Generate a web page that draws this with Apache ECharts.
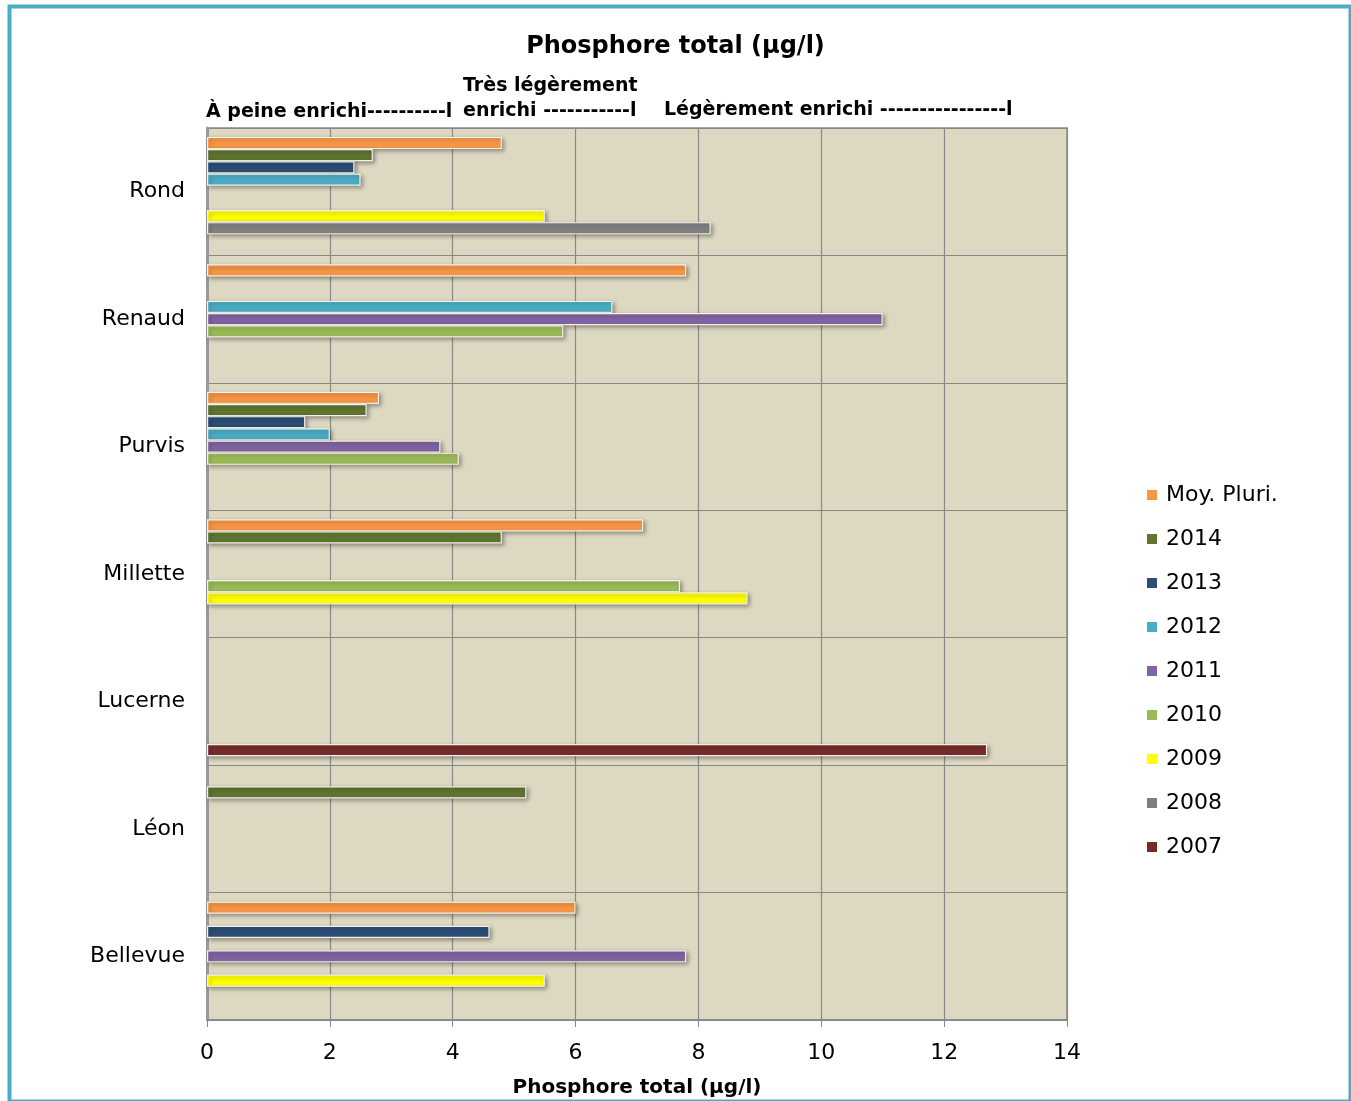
<!DOCTYPE html>
<html><head><meta charset="utf-8">
<script src="https://cdn.jsdelivr.net/npm/echarts@6/dist/echarts.min.js"></script>
<style>html,body{margin:0;padding:0;background:#fff}#c{width:1351px;height:1101px}</style>
</head><body><div id="c"></div>
<script>
var categories = ['Rond','Renaud','Purvis','Millette','Lucerne','Léon','Bellevue'];
var seriesNames = ['Moy. Pluri.','2014','2013','2012','2011','2010','2009','2008','2007'];
var moyPluri = [4.8, 7.8, 2.8, 7.1, null, null, 6.0];
var y2014 = [2.7, null, 2.6, 4.8, null, 5.2, null];
var y2013 = [2.4, null, 1.6, null, null, null, 4.6];
var y2012 = [2.5, 6.6, 2.0, null, null, null, null];
var y2011 = [null, 11.0, 3.8, null, null, null, 7.8];
var y2010 = [null, 5.8, 4.1, 7.7, null, null, null];
var y2009 = [5.5, null, null, 8.8, null, null, 5.5];
var y2008 = [8.2, null, null, null, null, null, null];
var y2007 = [null, null, null, null, 12.7, null, null];
var xTicks = [0, 2, 4, 6, 8, 10, 12, 14];

var dataSets = [moyPluri, y2014, y2013, y2012, y2011, y2010, y2009, y2008, y2007];
var colors = ['#F79646','#5F7530','#2C4D75','#4BACC6','#8064A2','#9BBB59','#FFFF00','#7F7F7F','#772C2A'];
var FONT = '"DejaVu Sans", sans-serif';

var series = dataSets.map(function(d, i){
  return {
    name: seriesNames[i], type: 'bar', data: d,
    barGap: '0%', barCategoryGap: '14%',
    itemStyle: {color: colors[i], borderColor: '#F4F1E8', borderWidth: 1.2,
      shadowColor: 'rgba(0,0,0,0.35)', shadowBlur: 4, shadowOffsetX: 2, shadowOffsetY: 2}
  };
});

var chart = echarts.init(document.getElementById('c'));
chart.setOption({
  backgroundColor: '#fff',
  animation: false,
  color: colors,
  title: {text: 'Phosphore total (µg/l)', left: 'center', top: 30,
    textStyle: {fontFamily: FONT, fontSize: 24, fontWeight: 'bold', color: '#000'}},
  legend: {orient: 'vertical', left: 1142, top: 479, itemWidth: 10, itemHeight: 10, itemGap: 22,
    icon: 'rect', itemStyle: {borderWidth: 0, shadowBlur: 0},
    textStyle: {fontFamily: FONT, fontSize: 22, color: '#000', padding: [0, 0, 0, 4]}, data: seriesNames},
  grid: {left: 207, right: 284, top: 128, bottom: 81, show: true, backgroundColor: '#DDD8C2',
    borderColor: '#888', borderWidth: 1.5, containLabel: false, outerBoundsMode: 'none'},
  xAxis: {type: 'value', min: 0, max: 14, interval: 2,
    name: 'Phosphore total (µg/l)', nameLocation: 'middle', nameGap: 58,
    nameTextStyle: {fontFamily: FONT, fontSize: 20, fontWeight: 'bold', color: '#000'},
    axisLine: {show: true, lineStyle: {color: '#888', width: 1.5}},
    axisTick: {show: true, length: 7, lineStyle: {color: '#888'}},
    axisLabel: {fontFamily: FONT, fontSize: 22, color: '#000', margin: 22,
      formatter: function(v){ return xTicks.indexOf(v) >= 0 ? String(v) : ''; }},
    splitLine: {show: true, lineStyle: {color: '#8a8a8a', width: 1.2}}},
  yAxis: {type: 'category', data: categories, inverse: true,
    axisLine: {show: true, lineStyle: {color: '#999', width: 3}},
    axisTick: {show: false},
    axisLabel: {fontFamily: FONT, fontSize: 22, color: '#000', margin: 22},
    splitLine: {show: true, lineStyle: {color: '#888', width: 1.2}}},
  graphic: [
    {type: 'text', left: 206, top: 103, style: {text: 'À peine enrichi----------l', fontFamily: FONT, fontSize: 19, fontWeight: 'bold', fill: '#000'}},
    {type: 'text', left: 463, top: 77, style: {text: 'Très légèrement', fontFamily: FONT, fontSize: 19, fontWeight: 'bold', fill: '#000'}},
    {type: 'text', left: 463, top: 102, style: {text: 'enrichi -----------l', fontFamily: FONT, fontSize: 19, fontWeight: 'bold', fill: '#000'}},
    {type: 'text', left: 664, top: 101, style: {text: 'Légèrement enrichi ----------------l', fontFamily: FONT, fontSize: 19, fontWeight: 'bold', fill: '#000'}},
    {type: 'rect', left: 7, top: 4, shape: {width: 1341, height: 1095}, silent: true,
      style: {fill: 'none', stroke: '#4BACC6', lineWidth: 4}}
  ],
  series: series
});
</script></body></html>
